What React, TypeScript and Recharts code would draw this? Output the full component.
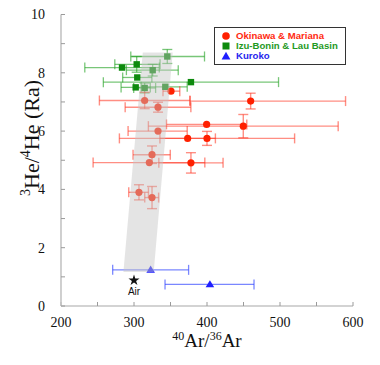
import {
  ScatterChart,
  Scatter,
  XAxis,
  YAxis,
  ErrorBar,
  Legend,
  Label,
  LabelList,
  Symbols,
} from "recharts";

// Okinawa & Mariana
const okinawaX = [350.7, 314.6, 459.8, 332.9, 399.5, 449.7, 332.9, 373.5, 400, 324.7, 321, 378, 306.8, 324.7];
const okinawaY = [7.37, 7.05, 7.03, 6.82, 6.23, 6.17, 6.0, 5.75, 5.75, 5.19, 4.92, 4.91, 3.9, 3.72];
const okinawaXErr = [[11, 12], [62, 62], [83, 130], [45, 45], [55, 55], [130, 130], [41, 40], [38, 38], [120, 120], [26, 25], [77, 76], [44, 44], [14, 13], [10, 9]];
const okinawaYErr = [0, 0.28, 0.27, 0.17, 0, 0.4, 0, 0, 0.24, 0.3, 0, 0.35, 0.26, 0.38];

// Izu-Bonin & Lau Basin
const izuX = [345.6, 303.7, 283.6, 325.6, 304.5, 378, 302.3, 314.6, 342.9];
const izuY = [8.56, 8.29, 8.18, 8.09, 7.84, 7.68, 7.5, 7.48, 7.52];
const izuXErr = [[50, 51], [30, 32], [51, 51], [36, 35], [20, 20], [120, 120], [20, 20], [15, 15], [33, 30]];
const izuYErr = [0.24, 0.27, 0, 0.2, 0, 0, 0, 0.17, 0];

// Kuroko
const kurokoX = [322.8, 404];
const kurokoY = [1.24, 0.74];
const kurokoXErr = [[52, 52], [61.5, 60.4]];

// Air
const airX = [300];
const airY = [0.88];
const airName = ["Air"];

// shaded band (vertices in order)
const bandX = [285.5, 312, 353, 327];
const bandY = [1.17, 8.7, 8.7, 1.17];

const xTicks = [200, 250, 300, 350, 400, 450, 500, 550, 600];
const yTicks = [0, 1, 2, 3, 4, 5, 6, 7, 8, 9, 10];

const seriesNames = ["Okinawa & Mariana", "Izu-Bonin & Lau Basin", "Kuroko"];
const markerColors = ["#ff2000", "#0d8a0d", "#1f1fff"];
const textColors = ["#ff2a10", "#1f9a1f", "#2626ee"];

const okinawaData = okinawaX.map((x, i) => ({ x, y: okinawaY[i], xErr: okinawaXErr[i], yErr: okinawaYErr[i] }));
const izuData = izuX.map((x, i) => ({ x, y: izuY[i], xErr: izuXErr[i], yErr: izuYErr[i] }));
const kurokoData = kurokoX.map((x, i) => ({ x, y: kurokoY[i], xErr: kurokoXErr[i] }));
const airData = airX.map((x, i) => ({ x, y: airY[i], name: airName[i] }));
const bandData = bandX.map((x, i) => ({ x, y: bandY[i] }));

const serif = "'Liberation Serif', 'Times New Roman', serif";
const sans = "'Liberation Sans', Arial, sans-serif";

const Circle = (p: any) => <circle cx={p.cx} cy={p.cy} r={3.6} fill={markerColors[0]} />;
const Square = (p: any) => <rect x={p.cx - 3.2} y={p.cy - 3.2} width={6.4} height={6.4} fill={markerColors[1]} />;
const Tri = (p: any) => (
  <polygon points={`${p.cx},${p.cy - 4.3} ${p.cx + 4.3},${p.cy + 2.9} ${p.cx - 4.3},${p.cy + 2.9}`} fill={markerColors[2]} />
);
const Star = (p: any) => <Symbols type="star" size={38} cx={p.cx} cy={p.cy} fill="#111" />;
const Nothing = () => <g />;

const BandPolygon = (p: any) => (
  <polygon
    points={(p.points || []).map((pt: any) => `${pt.x},${pt.y}`).join(" ")}
    fill="rgb(196,196,196)"
    fillOpacity={0.46}
    stroke="none"
  />
);

const XTitle = (props: any) => {
  const { x, y, width } = props.viewBox;
  return (
    <text x={x + width / 2} y={y + 41} textAnchor="middle" fontFamily={serif} fontSize={19} fill="#111">
      <tspan fontSize={12} dy={-7}>40</tspan>
      <tspan dy={7}>Ar/</tspan>
      <tspan fontSize={12} dy={-7}>36</tspan>
      <tspan dy={7}>Ar</tspan>
    </text>
  );
};

const YTitle = () => {
  const cx = 39;
  const cy = 138;
  return (
    <text x={cx} y={cy} transform={`rotate(-90, ${cx}, ${cy})`} textAnchor="middle" fontFamily={serif} fontSize={22} fill="#111">
      <tspan fontSize={14} dy={-9}>3</tspan>
      <tspan dy={9}>He/</tspan>
      <tspan fontSize={14} dy={-9}>4</tspan>
      <tspan dy={9}>He (Ra)</tspan>
    </text>
  );
};

const LegendBox = () => (
  <div
    style={{
      border: "1.5px solid #333",
      background: "#fff",
      padding: "3px 4px 3px 6px",
      width: 132,
      boxSizing: "border-box",
      whiteSpace: "nowrap",
      fontFamily: sans,
      fontWeight: "bold",
      fontSize: 9.6,
      lineHeight: "10px",
    }}
  >
    {seriesNames.map((name, i) => (
      <div key={name} style={{ display: "flex", alignItems: "center", color: textColors[i] }}>
        <svg width={10} height={10} style={{ marginRight: 5, flexShrink: 0 }}>
          {i === 0 && <circle cx={5} cy={5} r={3.8} fill={markerColors[0]} />}
          {i === 1 && <rect x={1.5} y={1.5} width={7} height={7} fill={markerColors[1]} />}
          {i === 2 && <polygon points="5,0.8 9.4,8.6 0.6,8.6" fill={markerColors[2]} />}
        </svg>
        <span>{name}</span>
      </div>
    ))}
  </div>
);

const axisLine = { stroke: "#c4c4c4", strokeWidth: 1.6 };
const tickLine = { stroke: "#9a9a9a" };
const tickFont = { fontFamily: serif, fontSize: 14, fill: "#111" };

export default function App() {
  return (
    <div>
      <style>{"body{margin:0}"}</style>
      <ScatterChart width={380} height={365} margin={{ top: 14.5, right: 27, bottom: 29, left: 0 }}>
        <XAxis
          type="number"
          dataKey="x"
          domain={[200, 600]}
          ticks={xTicks}
          interval={0}
          allowDataOverflow
          height={30}
          tickSize={-4}
          tickMargin={15}
          axisLine={axisLine}
          tickLine={tickLine}
          tick={tickFont}
          tickFormatter={(v: number) => (v % 100 === 0 ? String(v) : "")}
        >
          <Label content={XTitle} />
        </XAxis>
        <YAxis
          type="number"
          dataKey="y"
          domain={[0, 10]}
          ticks={yTicks}
          interval={0}
          allowDataOverflow
          width={61}
          tickSize={-4}
          tickMargin={20}
          axisLine={axisLine}
          tickLine={tickLine}
          tick={tickFont}
          tickFormatter={(v: number) => (v % 2 === 0 ? String(v) : "")}
        >
          <Label content={YTitle} />
        </YAxis>
        <XAxis
          xAxisId="top"
          orientation="top"
          type="number"
          dataKey="x"
          domain={[200, 600]}
          ticks={xTicks}
          interval={0}
          allowDataOverflow
          height={0}
          tickSize={-4}
          axisLine={axisLine}
          tickLine={tickLine}
          tickFormatter={() => ""}
        />
        <YAxis
          yAxisId="right"
          orientation="right"
          type="number"
          dataKey="y"
          domain={[0, 10]}
          ticks={yTicks}
          interval={0}
          allowDataOverflow
          width={0}
          tickSize={-4}
          axisLine={axisLine}
          tickLine={tickLine}
          tickFormatter={() => ""}
        />
        <Legend
          layout="vertical"
          align="center"
          verticalAlign="middle"
          content={LegendBox}
          wrapperStyle={{ left: 214, top: 27, width: "auto", height: "auto" }}
        />
        <Scatter name={seriesNames[1]} data={izuData} shape={Square} isAnimationActive={false}>
          <ErrorBar dataKey="xErr" direction="x" width={5} stroke="rgba(30,160,30,0.6)" strokeWidth={1.3} />
          <ErrorBar dataKey="yErr" direction="y" width={5} stroke="rgba(30,160,30,0.6)" strokeWidth={1.3} />
        </Scatter>
        <Scatter name={seriesNames[0]} data={okinawaData} shape={Circle} isAnimationActive={false}>
          <ErrorBar dataKey="xErr" direction="x" width={5} stroke="rgba(255,50,30,0.55)" strokeWidth={1.4} />
          <ErrorBar dataKey="yErr" direction="y" width={5} stroke="rgba(255,50,30,0.55)" strokeWidth={1.4} />
        </Scatter>
        <Scatter name={seriesNames[2]} data={kurokoData} shape={Tri} isAnimationActive={false}>
          <ErrorBar dataKey="xErr" direction="x" width={5} stroke="rgba(50,70,255,0.65)" strokeWidth={1.3} />
        </Scatter>
        <Scatter name="Air" data={airData} shape={Star} isAnimationActive={false} legendType="none">
          <LabelList dataKey="name" position="bottom" offset={3} style={{ fontFamily: sans, fontSize: 10, fill: "#111" }} />
        </Scatter>
        <Scatter
          name="band"
          data={bandData}
          shape={Nothing}
          line={BandPolygon}
          isAnimationActive={false}
          legendType="none"
        />
      </ScatterChart>
    </div>
  );
}
